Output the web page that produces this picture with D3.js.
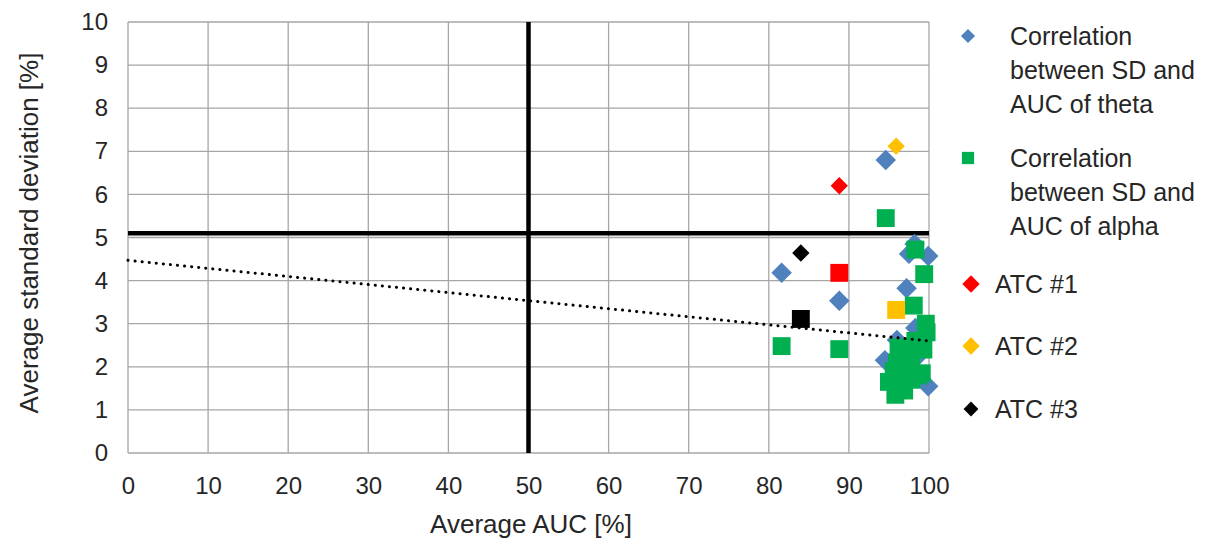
<!DOCTYPE html>
<html>
<head>
<meta charset="utf-8">
<script src="https://cdn.jsdelivr.net/npm/d3@7"></script>
<style>
  body { margin: 0; background: #fff; }
  text { font-family: "Liberation Sans", Arial, sans-serif; fill: #262626; }
</style>
</head>
<body>
<div id="chart"></div>
<script>
const width = 1218;
const height = 544;

// AUC [%], SD [%]
const thetaPoints = [
  [94.6, 6.8], [81.6, 4.18], [88.8, 3.53], [98.2, 4.85], [99.9, 4.57],
  [97.5, 4.62], [97.2, 3.82], [96.0, 2.62], [98.3, 2.9], [94.5, 2.15],
  [99.9, 1.55], [97.0, 2.0], [99.5, 2.7], [96.5, 1.8], [98.9, 2.3]
];
const alphaPoints = [
  [94.6, 5.45], [81.6, 2.48], [88.8, 2.41], [98.3, 4.72], [99.4, 4.15],
  [98.1, 3.42], [99.6, 3.0], [99.7, 2.8], [99.3, 2.4], [96.2, 2.45],
  [96.0, 2.1], [97.8, 2.25], [95.0, 1.65], [95.8, 1.35], [96.6, 1.55],
  [98.6, 1.8], [97.6, 1.95], [99.1, 1.85], [96.9, 1.45], [98.3, 2.6],
  [95.6, 1.9], [97.8, 1.7]
];
const atcNames = ['ATC #1', 'ATC #2', 'ATC #3'];
const atcColors = ['#ff0000', '#ffc000', '#000000'];
const atcTheta = [[88.8, 6.2], [95.9, 7.12], [84.0, 4.64]];
const atcAlpha = [[88.8, 4.18], [95.9, 3.32], [84.0, 3.11]];

const trendLine = [[0, 4.47], [100, 2.6]];
const thresholdAUC = 50;
const thresholdSD = 5.1;

const xTicks = d3.range(0, 101, 10);
const yTicks = d3.range(0, 11, 1);

let svg = d3.select('#chart').append('svg')
    .attr('width', width)
    .attr('height', height);

const plotLeft = 128, plotRight = 929, plotTop = 22, plotBottom = 453;

let x = d3.scaleLinear().domain([0, 100]).range([plotLeft, plotRight]);
let y = d3.scaleLinear().domain([0, 10]).range([plotBottom, plotTop]);

// grid
svg.append('g').selectAll('line').data(xTicks).enter().append('line')
    .attr('x1', d => x(d)).attr('x2', d => x(d))
    .attr('y1', plotTop).attr('y2', plotBottom)
    .attr('stroke', '#a6a6a6').attr('stroke-width', 1.3);
svg.append('g').selectAll('line').data(yTicks).enter().append('line')
    .attr('x1', plotLeft).attr('x2', plotRight)
    .attr('y1', d => y(d)).attr('y2', d => y(d))
    .attr('stroke', '#a6a6a6').attr('stroke-width', 1.3);

// axes (labels only)
let xAxis = svg.append('g')
    .attr('transform', 'translate(0,' + plotBottom + ')')
    .call(d3.axisBottom(x).tickValues(xTicks).tickSize(0).tickPadding(24));
xAxis.select('.domain').remove();
xAxis.selectAll('text').style('font-size', '24px').attr('fill', '#262626');

let yAxis = svg.append('g')
    .attr('transform', 'translate(' + plotLeft + ',0)')
    .call(d3.axisLeft(y).tickValues(yTicks).tickSize(0).tickPadding(20));
yAxis.select('.domain').remove();
yAxis.selectAll('text').style('font-size', '24px').attr('fill', '#262626');

svg.append('text')
    .attr('x', 531).attr('y', 533)
    .attr('text-anchor', 'middle').style('font-size', '26px')
    .text('Average AUC [%]');
svg.append('text')
    .attr('transform', 'translate(38,' + 233 + ') rotate(-90)')
    .attr('text-anchor', 'middle').style('font-size', '26px')
    .text('Average standard deviation [%]');

// threshold lines
svg.append('line')
    .attr('x1', x(thresholdAUC)).attr('x2', x(thresholdAUC))
    .attr('y1', y(10)).attr('y2', y(0))
    .attr('stroke', '#000').attr('stroke-width', 4.5);
svg.append('line')
    .attr('x1', x(0)).attr('x2', x(100))
    .attr('y1', y(thresholdSD)).attr('y2', y(thresholdSD))
    .attr('stroke', '#000').attr('stroke-width', 4.5);

const diamond = d3.symbol().type(d3.symbolSquare);
const square = d3.symbol().type(d3.symbolSquare);

function drawDiamonds(data, color, size) {
  svg.append('g').selectAll('path').data(data).enter().append('path')
      .attr('d', diamond.size(size)())
      .attr('transform', d => 'translate(' + x(d[0]) + ',' + y(d[1]) + ') rotate(45)')
      .attr('fill', color);
}

function drawSquares(data, color, size) {
  svg.append('g').selectAll('path').data(data).enter().append('path')
      .attr('d', square.size(size)())
      .attr('transform', d => 'translate(' + x(d[0]) + ',' + y(d[1]) + ')')
      .attr('fill', color);
}

drawDiamonds(thetaPoints, '#4f81bd', 210);
drawSquares(alphaPoints, '#00b050', 320);

// trendline
svg.append('path')
    .datum(trendLine)
    .attr('d', d3.line().x(d => x(d[0])).y(d => y(d[1])))
    .attr('stroke', '#000').attr('stroke-width', 3)
    .attr('stroke-dasharray', '0.1 7').attr('stroke-linecap', 'round')
    .attr('fill', 'none');

atcNames.forEach((name, i) => {
  drawSquares([atcAlpha[i]], atcColors[i], 320);
  drawDiamonds([atcTheta[i]], atcColors[i], 150);
});

// legend
let legend = svg.append('g');
function legendText(lines, tx, ty) {
  let t = legend.append('text').attr('x', tx).attr('y', ty).style('font-size', '25px');
  lines.forEach((l, i) => {
    t.append('tspan').attr('x', tx).attr('dy', i === 0 ? 0 : 34).text(l);
  });
}
legend.append('path').attr('d', diamond.size(100)())
    .attr('transform', 'translate(968,36) rotate(45)').attr('fill', '#4f81bd');
legendText(['Correlation', 'between SD and', 'AUC of theta'], 1010, 45);
legend.append('path').attr('d', square.size(150)())
    .attr('transform', 'translate(968,158)').attr('fill', '#00b050');
legendText(['Correlation', 'between SD and', 'AUC of alpha'], 1010, 167);

const atcLegendY = [284, 346, 409];
atcNames.forEach((name, i) => {
  legend.append('path').attr('d', diamond.size(i === 2 ? 110 : 150)())
      .attr('transform', 'translate(971,' + atcLegendY[i] + ') rotate(45)')
      .attr('fill', atcColors[i]);
  legendText([name], 995, atcLegendY[i] + 9);
});
</script>
</body>
</html>
